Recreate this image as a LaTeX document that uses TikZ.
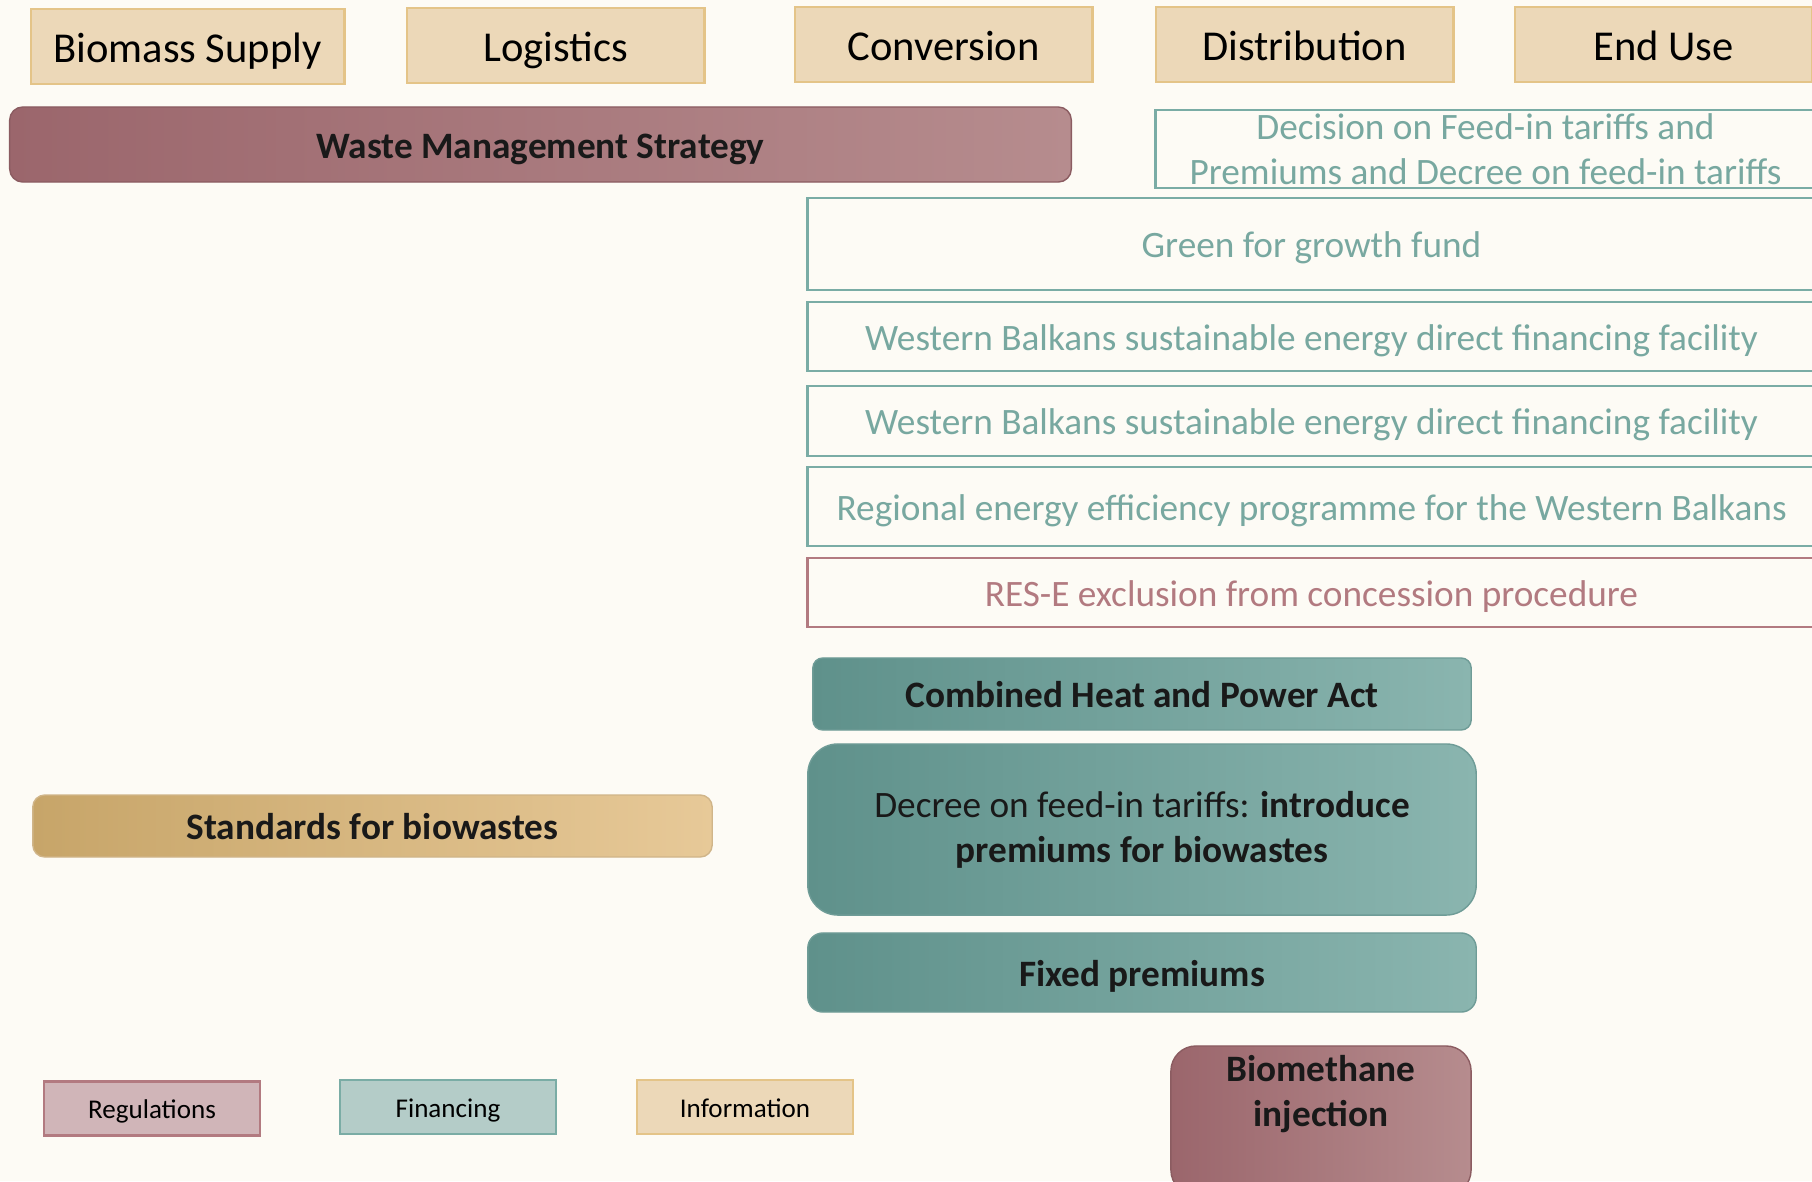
\documentclass[tikz,border=0pt]{standalone}
\usepackage{fontspec}
\setmainfont{Carlito}
\definecolor{bgcream}{RGB}{253,251,245}
\definecolor{infofill}{RGB}{236,216,184}
\definecolor{infoline}{RGB}{228,196,136}
\definecolor{regfill}{RGB}{208,181,184}
\definecolor{regline}{RGB}{178,122,128}
\definecolor{finfill}{RGB}{180,204,200}
\definecolor{finline}{RGB}{122,172,165}
\definecolor{tealtext}{RGB}{120,168,160}
\definecolor{regleft}{RGB}{155,102,108}
\definecolor{regright}{RGB}{182,140,142}
\definecolor{finleft}{RGB}{95,145,139}
\definecolor{finright}{RGB}{138,181,175}
\definecolor{infleft}{RGB}{199,165,105}
\definecolor{infright}{RGB}{231,201,152}
\definecolor{darktext}{RGB}{25,25,25}
\tikzset{stage/.style={draw=infoline, fill=infofill, line width=0.8pt, inner sep=0pt,
		text height=0.4cm, text depth=0.085cm, font=\fontsize{12.1}{15}\selectfont},
	oneline/.style={text height=0.35cm, text depth=0.075cm},
	finout/.style={draw=finline, fill=bgcream, line width=0.8pt, inner sep=0pt, text=tealtext,
		align=center, font=\fontsize{10.6}{12.8}\selectfont},
	regout/.style={finout, draw=regline, text=regline},
	boldtxt/.style={text=darktext, align=center, inner sep=0pt,
		font=\fontsize{10.6}{12.8}\selectfont\bfseries},
	regbar/.style={boldtxt, draw=regleft!90!black, line width=0.4pt, left color=regleft, right color=regright},
	finbar/.style={boldtxt, draw=finleft!90!white, line width=0.4pt, left color=finleft, right color=finright},
	infbar/.style={boldtxt, draw=infright!90!black, line width=0.4pt, left color=infleft, right color=infright},
	legendbox/.style={line width=0.8pt, inner sep=0pt, minimum width=2.16cm, minimum height=0.54cm,
		text height=0.254cm, text depth=0.054cm, font=\fontsize{7.7}{9}\selectfont}}
\begin{document}
\begin{tikzpicture}[x=0.01cm, y=-0.01cm]
		\useasboundingbox (0,0) rectangle (1812,1181);
		\clip (0,0) rectangle (1812,1181);
		\fill[bgcream] (0,0) rectangle (1812,1181);
		% value chain stages
		\node[stage, minimum width=3.13cm, minimum height=0.75cm] (bsupply) at (187.5,46.5){Biomass Supply};
		\node[stage, minimum width=2.97cm, minimum height=0.75cm] (logist) at (555.5,45.5){Logistics};
		\node[stage, minimum width=2.97cm, minimum height=0.75cm] (convers) at (943.5,44.5){Conversion};
		\node[stage, minimum width=2.97cm, minimum height=0.75cm] (distrib) at (1304.5,44.5){Distribution};
		\node[stage, minimum width=2.97cm, minimum height=0.75cm] (enduse) at (1663.5,44.5){End Use};
		% measures
		\node[regbar, oneline, rounded corners=0.13cm, minimum width=10.61cm, minimum height=0.75cm] (wms) at (540.5,144.5){Waste Management Strategy};
		\node[finout, minimum width=6.59cm, minimum height=0.78cm] (decision) at (1485.5,149){Decision on Feed-in tariffs and\\Premiums and Decree on feed-in tariffs};
		\node[finout, oneline, minimum width=10.07cm, minimum height=0.92cm] (green) at (1311.5,244){Green for growth fund};
		\node[finout, oneline, minimum width=10.07cm, minimum height=0.69cm] (wbone) at (1311.5,336.5){Western Balkans sustainable energy direct financing facility};
		\node[finout, oneline, minimum width=10.07cm, minimum height=0.70cm] (wbtwo) at (1311.5,421){Western Balkans sustainable energy direct financing facility};
		\node[finout, oneline, minimum width=10.07cm, minimum height=0.79cm] (region) at (1311.5,506.5){Regional energy efficiency programme for the Western Balkans};
		\node[regout, oneline, minimum width=10.07cm, minimum height=0.69cm] (resexcl) at (1311.5,592.5){RES-E exclusion from concession procedure};
		\node[finbar, oneline, rounded corners=0.1cm, minimum width=6.58cm, minimum height=0.72cm] (chp) at (1142,694){Combined Heat and Power Act};
		\node[finbar, rounded corners=0.3cm, minimum width=6.68cm, minimum height=1.71cm] (decree) at (1142,829.5){\mdseries Decree on feed-in tariffs: \bfseries introduce\\premiums for biowastes};
		\node[finbar, oneline, rounded corners=0.15cm, minimum width=6.68cm, minimum height=0.79cm] (fixed) at (1142,972.5){Fixed premiums};
		\node[infbar, oneline, rounded corners=0.12cm, minimum width=6.79cm, minimum height=0.62cm] (standards) at (372.5,826){Standards for biowastes};
		\node[regbar, rounded corners=0.25cm, minimum width=3.00cm, minimum height=1.49cm] (biometh) at (1321,1120.5){};
		\node[boldtxt] (biomethtxt) at ([yshift=0.26cm]biometh.center){Biomethane\\injection};
		% legend
		\node[legendbox, draw=regline, fill=regfill] (regul) at (152,1108.5){Regulations};
		\node[legendbox, draw=finline, fill=finfill] (financ) at (448,1107){Financing};
		\node[legendbox, draw=infoline, fill=infofill] (inform) at (745,1107){Information};
\end{tikzpicture}
\end{document}
